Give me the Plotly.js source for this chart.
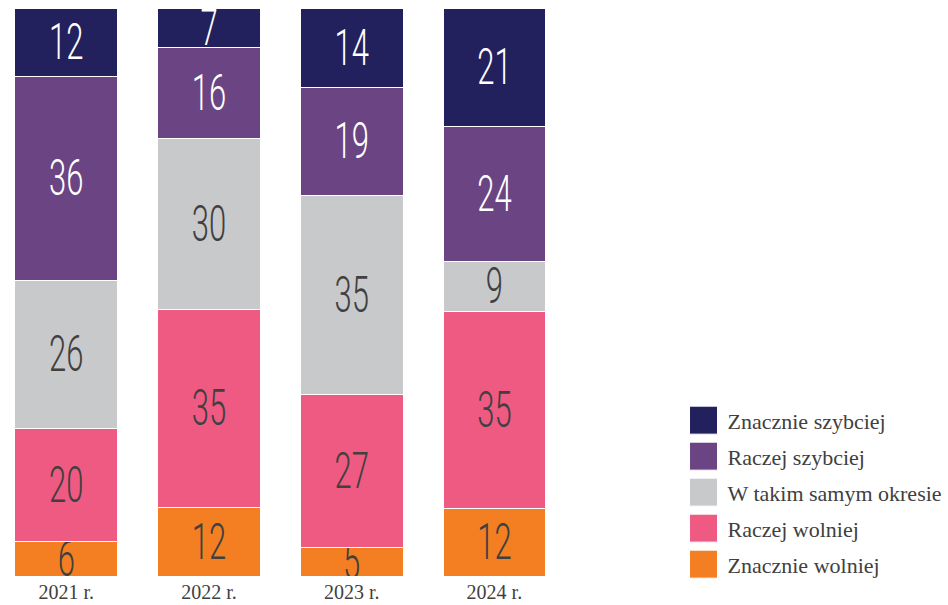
<!DOCTYPE html>
<html>
<head>
<meta charset="utf-8">
<script src="https://cdn.plot.ly/plotly-3.0.1.min.js"></script>
<style>
  html, body { margin: 0; padding: 0; background: #fff; }
  #chart { width: 948px; height: 605px; }
</style>
</head>
<body>
<div id="chart"></div>
<script>
const years = ['2021 r.', '2022 r.', '2023 r.', '2024 r.'];
const seriesNames = ['Znacznie wolniej', 'Raczej wolniej', 'W takim samym okresie', 'Raczej szybciej', 'Znacznie szybciej'];
const znacznieWolniej = [6, 12, 5, 12];
const raczejWolniej = [20, 35, 27, 35];
const takiSam = [26, 30, 35, 9];
const raczejSzybciej = [36, 16, 19, 24];
const znacznieSzybciej = [12, 7, 14, 21];

const seriesValues = [znacznieWolniej, raczejWolniej, takiSam, raczejSzybciej, znacznieSzybciej];
const legendRanks = [5, 4, 3, 2, 1];
const colors = ['#f47f22', '#ef5a83', '#c8c9cb', '#6b4583', '#23205e'];
const textColors = ['#404040', '#404040', '#404040', '#ffffff', '#ffffff'];

const numFont = "'Roboto', 'Liberation Sans', sans-serif";
const serifFont = "'Liberation Serif', 'DejaVu Serif', serif";

const traces = seriesValues.map((vals, i) => ({
  type: 'bar',
  name: seriesNames[i],
  legendgroup: 'g' + i,
  legendrank: legendRanks[i],
  x: years,
  y: vals,
  text: vals.map(String),
  texttemplate: '%{text}',
  textposition: 'inside',
  insidetextanchor: 'middle',
  textangle: 0,
  constraintext: 'none',
  textfont: { family: numFont, size: 50, weight: 300, color: textColors[i] },
  marker: { color: colors[i], line: { color: '#ffffff', width: 1 } },
  hoverinfo: 'skip'
}));

const layout = {
  width: 948,
  height: 605,
  margin: { l: 0, r: 348, t: 8, b: 29 },
  paper_bgcolor: '#ffffff',
  plot_bgcolor: '#ffffff',
  barmode: 'stack',
  barnorm: 'percent',
  bargap: 0.28,
  showlegend: true,
  xaxis: {
    type: 'category',
    range: [-0.4644, 3.726],
    showgrid: false,
    zeroline: false,
    showline: false,
    ticks: '',
    tickfont: { family: serifFont, size: 20, color: '#404040' },
    ticklabelstandoff: 2
  },
  yaxis: {
    range: [0, 100],
    visible: false,
    showgrid: false,
    zeroline: false
  },
  legend: {
    x: 1.1497,
    xanchor: 'left',
    y: 0.311,
    yanchor: 'top',
    traceorder: 'grouped',
    tracegroupgap: 4.4,
    font: { family: serifFont, size: 22, color: '#404040' },
    itemwidth: 30,
    bgcolor: 'rgba(0,0,0,0)'
  }
};

Plotly.newPlot('chart', traces, layout, { displayModeBar: false, staticPlot: true }).then(gd => {
  // condense the numeric labels horizontally (narrow display face in the original)
  gd.querySelectorAll('.bars .textpoint text, .bars text.bartext').forEach(t => {
    const w = t.getComputedTextLength();
    if (w > 0) {
      t.setAttribute('textLength', (w * 0.62).toFixed(1));
      t.setAttribute('lengthAdjust', 'spacingAndGlyphs');
    }
  });
  // larger square legend swatches
  gd.querySelectorAll('.legend .legendpoints path').forEach(p => {
    p.setAttribute('d', 'M10,14H-18V-14H10Z');
  });
});
</script>
</body>
</html>
